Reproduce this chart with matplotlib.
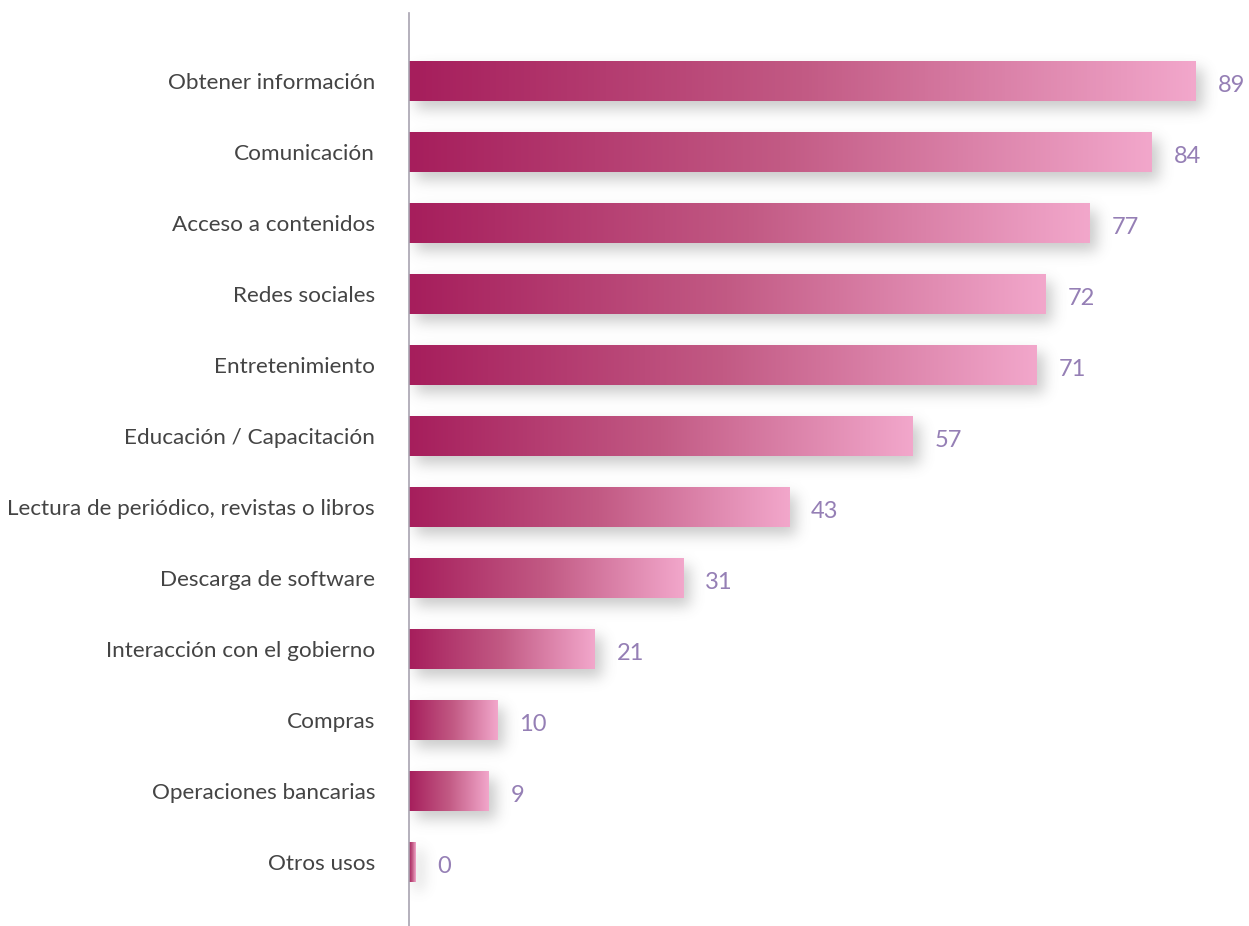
import matplotlib
matplotlib.use("Agg")
import matplotlib.pyplot as plt
import numpy as np
from matplotlib.colors import LinearSegmentedColormap

categories = ["Obtener información", "Comunicación", "Acceso a contenidos",
              "Redes sociales", "Entretenimiento", "Educación / Capacitación",
              "Lectura de periódico, revistas o libros", "Descarga de software",
              "Interacción con el gobierno", "Compras", "Operaciones bancarias",
              "Otros usos"]
values = [89, 84, 77, 72, 71, 57, 43, 31, 21, 10, 9, 0]

W, H = 1249, 926
fig = plt.figure(figsize=(W / 100, H / 100), dpi=100)
ax_left, ax_top, ax_bottom = 409, 13, 926
AW, AH = W - ax_left, ax_bottom - ax_top
ax = fig.add_axes([ax_left / W, 0, AW / W, AH / H])

px_per_unit = 8.84
xmax = AW / px_per_unit
spacing = 71.0
first_center = 81
ytop = -(first_center - ax_top) / spacing
ybot = ytop + AH / spacing
ax.set_xlim(0, xmax)
ax.set_ylim(ybot, ytop)

bar_h = 40 / spacing
cmap = LinearSegmentedColormap.from_list("g", ["#A61E5C", "#C25A84", "#F2A7CB"])
grad = np.linspace(0, 1, 256).reshape(1, -1)

# soft drop shadow, computed in pixel space from bar geometry
shadow = np.zeros((AH, AW))
dx, dy = 7, 8
for i, v in enumerate(values):
    w = max(v, 0.7)
    x1 = int(round(w * px_per_unit))
    yc = (i - ytop) * spacing
    y0 = int(round(yc - 20 + dy))
    y1 = int(round(yc + 20 + dy))
    shadow[max(y0, 0):min(y1, AH), dx:min(x1 + dx, AW)] = 1.0
sigma = 7.0
r = int(3 * sigma)
kx = np.exp(-0.5 * (np.arange(-r, r + 1) / sigma) ** 2)
kx /= kx.sum()
shadow = np.apply_along_axis(lambda m: np.convolve(m, kx, mode="same"), 1, shadow)
shadow = np.apply_along_axis(lambda m: np.convolve(m, kx, mode="same"), 0, shadow)
rgba = np.zeros((AH, AW, 4))
rgba[..., :3] = 0.35
rgba[..., 3] = shadow * 0.32
ax.imshow(rgba, extent=(0, xmax, ybot, ytop), aspect="auto", zorder=1,
          interpolation="bilinear")

font = "Lato"
for i, (cat, v) in enumerate(zip(categories, values)):
    w = max(v, 0.7)
    ax.imshow(grad, cmap=cmap, aspect="auto",
              extent=(0, w, i + bar_h / 2, i - bar_h / 2), zorder=3,
              interpolation="bilinear")
    ax.text(w + 22 / px_per_unit, i + 4 / spacing, f"{v}", va="center", ha="left",
            fontsize=17, color="#957FB5", family=font, zorder=4)
    ax.text(-34 / px_per_unit, i + 2 / spacing, cat, va="center", ha="right",
            fontsize=16.2, color="#444444", family=font, clip_on=False)

ax.set_xlim(0, xmax)
ax.set_ylim(ybot, ytop)
for s in ["top", "right", "bottom"]:
    ax.spines[s].set_visible(False)
ax.spines["left"].set_color("#A8A3B0")
ax.spines["left"].set_linewidth(1.2)
ax.spines["left"].set_zorder(5)
ax.set_xticks([])
ax.set_yticks([])
ax.patch.set_alpha(0)

fig.savefig("out.png", dpi=100)
